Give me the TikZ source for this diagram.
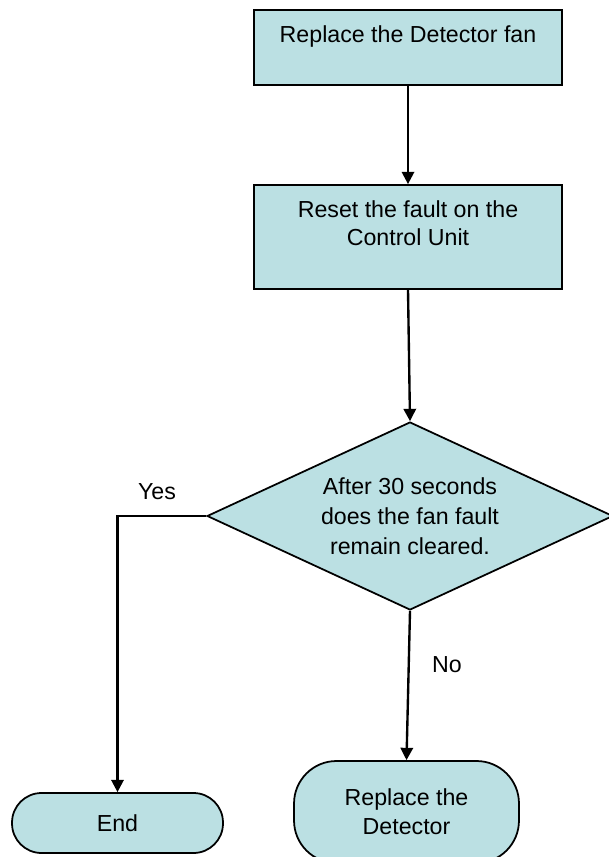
\documentclass[tikz,border=0pt]{standalone}
\usepackage{fontspec}
\setmainfont{Liberation Sans}
\usetikzlibrary{arrows.meta, shapes.geometric}
\definecolor{celeste}{HTML}{BBE0E3}
\definecolor{borde}{HTML}{000000}

\begin{document}
\begin{tikzpicture}[x=0.02cm, y=-0.02cm,
	caja/.style={rectangle, draw=borde, fill=celeste, line width=1pt, minimum width=6.16cm, inner xsep=0pt, inner ysep=0pt, align=center, font=\fontsize{13.2}{16}\selectfont},
	rombo/.style={diamond, draw=borde, fill=celeste, line width=1pt, minimum width=8.12cm, minimum height=3.76cm, inner sep=0pt, aspect=2.16, align=center, font=\fontsize{13.2}{17}\selectfont},
	terminal/.style={rectangle, draw=borde, fill=celeste, line width=1pt, align=center, font=\fontsize{13.2}{16.5}\selectfont},
	flecha/.style={-{Triangle[length=7pt, width=7pt]}, line width=1.35pt, draw=borde},
	etiqueta/.style={font=\fontsize{13.2}{16}\selectfont}]
	\useasboundingbox (0,0) rectangle (608,857);
	\node[caja, text height=0.66cm, text depth=0.84cm] (fix) at (408,47.5) {Replace the Detector fan};
	\node[caja, text height=1.22cm, text depth=0.86cm] (reset) at (408,237) {Reset the fault on the\\Control Unit};
	\node[rombo] (pregunta) at (410,516) {After 30 seconds\\does the fan fault\\remain cleared.};
	\node[terminal, minimum width=4.22cm, minimum height=1.2cm, rounded corners=0.59cm] (fin) at (117.5,823) {End};
	\node[terminal, minimum width=4.5cm, minimum height=2.04cm, rounded corners=0.85cm] (cambio) at (406.5,812) {Replace the\\Detector};
	\node[etiqueta] (si) at (157,492) {Yes};
	\node[etiqueta] (no) at (447,665) {No};
	\draw[flecha] (fix.south) -- (reset.north);
	\draw[flecha] (reset.south) -- (pregunta.north);
	\draw[flecha] (pregunta.south) -- (cambio.north);
	\draw[flecha] (pregunta.west) -| (fin.north);
\end{tikzpicture}
\end{document}
